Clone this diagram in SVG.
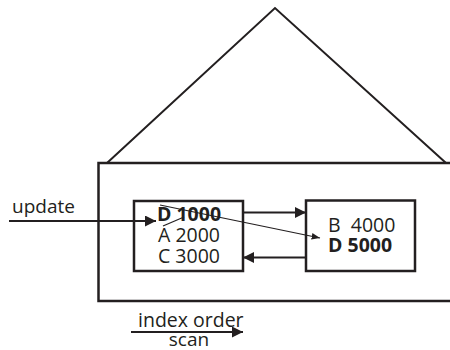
<svg xmlns="http://www.w3.org/2000/svg" width="450" height="350" viewBox="0 0 450 350">
<defs>
<marker id="ah" viewBox="0 0 10 10" refX="10" refY="5" markerWidth="5" markerHeight="5" orient="auto" markerUnits="strokeWidth"><path d="M0,0 L10,5 L0,10 z" fill="#231f20"/></marker>
<marker id="ahs" viewBox="0 0 10 10" refX="10" refY="5" markerWidth="7" markerHeight="7" orient="auto" markerUnits="strokeWidth"><path d="M0,1 L10,5 L0,9 z" fill="#231f20"/></marker>
<style>
text{font-family:"Open Sans","DejaVu Sans",sans-serif;fill:#231f20;}
.t{font-size:19.5px;}
.b{font-weight:bold;}
.box{fill:none;stroke:#231f20;stroke-width:2.5;}
.ln{fill:none;stroke:#231f20;stroke-width:2.2;}
.thin{fill:none;stroke:#231f20;stroke-width:1.2;}
</style>
</defs>
<rect width="450" height="350" fill="#fff"/>
<g id="roof"><path d="M107,163 L275,8 L446,163" fill="none" stroke="#231f20" stroke-width="2"/></g>
<g id="table"><path d="M451,163 H98.5 V301 H451" class="box"/></g>
<g id="page1">
<rect x="134" y="201" width="109" height="70" class="box"/>
<text class="t b" x="189" y="221" text-anchor="middle">D 1000</text>
<text class="t" x="189" y="242" text-anchor="middle">A 2000</text>
<text class="t" x="189" y="262.5" text-anchor="middle">C 3000</text>
</g>
<g id="page2">
<rect x="306" y="200.5" width="109" height="70.5" class="box"/>
<text class="t" x="328" y="231.5" xml:space="preserve">B  4000</text>
<text class="t b" x="328" y="251.5">D 5000</text>
</g>
<g id="labels">
<text x="12" y="213" style="font-size:19px">update</text>
<text x="138" y="326.5" style="font-size:19.5px">index order</text>
<text x="189" y="346" text-anchor="middle" style="font-size:19px">scan</text>
</g>
<g id="connectors">
<line x1="9" y1="221" x2="156" y2="221" class="ln" marker-end="url(#ah)"/>
<line x1="243" y1="212.5" x2="306" y2="212.5" class="ln" marker-end="url(#ah)"/>
<line x1="306" y1="257.5" x2="243" y2="257.5" class="ln" marker-end="url(#ah)"/>
<line x1="131" y1="332" x2="243" y2="332" class="ln" marker-end="url(#ah)"/>
<line x1="160" y1="205" x2="320" y2="238" class="thin" marker-end="url(#ahs)"/>
<line x1="163" y1="226" x2="184" y2="217" class="thin"/>
</g>
</svg>
